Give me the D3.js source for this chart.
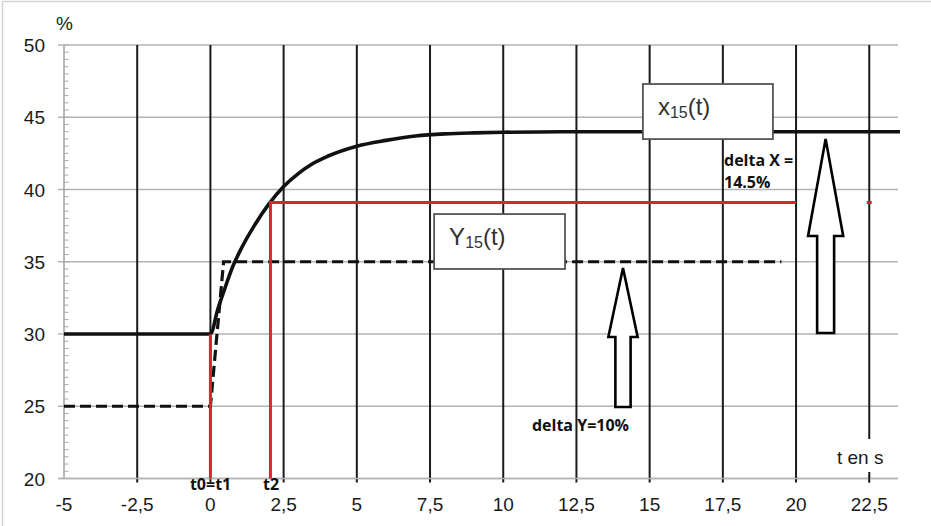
<!DOCTYPE html>
<html><head><meta charset="utf-8">
<script src="https://cdn.jsdelivr.net/npm/d3@7"></script>
<style>body{margin:0;background:#fff}svg{display:block}</style>
</head><body>
<svg id="c" width="931" height="526"></svg>
<script>
// ---- data ----
const xTicks = [-5, -2.5, 0, 2.5, 5, 7.5, 10, 12.5, 15, 17.5, 20, 22.5];
const xTickLabels = ["-5", "-2,5", "0", "2,5", "5", "7,5", "10", "12,5", "15", "17,5", "20", "22,5"];
const yTicks = [20, 25, 30, 35, 40, 45, 50];
// x15(t) output response
const xT = [-5, 0, 0.25, 0.5, 0.75, 1, 1.5, 2, 2.5, 3, 3.5, 4, 5, 6, 7, 8, 9, 10, 12, 23.55];
const xV = [30, 30, 31.7, 33.2, 34.6, 35.7, 37.5, 39.0, 40.2, 41.1, 41.8, 42.3, 43.0, 43.4, 43.7, 43.85, 43.92, 43.96, 44, 44];
// Y15(t) input step
const yT = [-5, 0, 0.45, 19.5];
const yV = [25, 25, 35, 35];
// markers
const t0 = 0, t2 = 2.05, x0Val = 30, x2Val = 39.1, redEnd = 20, redDot = 22.5;

const svg = d3.select("#c");
const x = d3.scaleLinear().domain([-5, 23.55]).range([64, 900]);
const y = d3.scaleLinear().domain([20, 50]).range([478.5, 45]);

// frame
svg.append("rect").attr("x", 2.5).attr("y", 1.5).attr("width", 950).attr("height", 560)
  .attr("fill", "none").attr("stroke", "#d4d4d4").attr("stroke-width", 1.5);

// horizontal grid
svg.append("g").selectAll("line").data(yTicks).join("line")
  .attr("x1", 58).attr("x2", 898).attr("y1", d => y(d)).attr("y2", d => y(d))
  .attr("stroke", "#b3b3b3").attr("stroke-width", 1.5);

// y axis line + minor ticks
svg.append("line").attr("x1", x(-5)).attr("x2", x(-5)).attr("y1", y(50)).attr("y2", y(20))
  .attr("stroke", "#a0a0a0").attr("stroke-width", 1.5);
svg.append("g").selectAll("line").data(d3.range(20, 50.01, 0.5)).join("line")
  .attr("x1", x(-5)).attr("x2", x(-5) + 4.5).attr("y1", d => y(d)).attr("y2", d => y(d))
  .attr("stroke", "#a8a8a8").attr("stroke-width", 1);

// vertical grid (dark)
svg.append("g").selectAll("line").data(xTicks.filter(d => d > -5 && d < 22)).join("line")
  .attr("x1", d => x(d)).attr("x2", d => x(d)).attr("y1", y(50)).attr("y2", y(20) + 4)
  .attr("stroke", "#1a1a1a").attr("stroke-width", 2);
svg.append("line").attr("x1", x(22.5)).attr("x2", x(22.5)).attr("y1", y(50)).attr("y2", y(20) + 4)
  .attr("stroke", "#1a1a1a").attr("stroke-width", 2);

// y tick labels
svg.append("g").selectAll("text").data(yTicks).join("text")
  .attr("x", 45).attr("y", d => y(d) + 7).attr("text-anchor", "end")
  .attr("font-family", "Liberation Sans, Arial, sans-serif").attr("font-size", 19).attr("fill", "#1a1a1a")
  .text(d => d);
svg.append("text").attr("x", 56).attr("y", 30).attr("font-family", "Liberation Sans, Arial, sans-serif")
  .attr("font-size", 19).attr("fill", "#1a1a1a").text("%");

// x tick labels
svg.append("g").selectAll("text").data(xTicks).join("text")
  .attr("x", d => x(d)).attr("y", 511).attr("text-anchor", "middle")
  .attr("font-family", "Liberation Sans, Arial, sans-serif").attr("font-size", 19).attr("fill", "#1a1a1a")
  .text((d, i) => xTickLabels[i]);

// "t en s" label with white background
svg.append("rect").attr("x", 833).attr("y", 439).attr("width", 56).attr("height", 33).attr("fill", "#fff");
svg.append("line").attr("x1", 58).attr("x2", 898).attr("y1", y(20)).attr("y2", y(20))
  .attr("stroke", "#b3b3b3").attr("stroke-width", 1.5);
svg.append("line").attr("x1", x(22.5)).attr("x2", x(22.5)).attr("y1", y(20) - 3).attr("y2", y(20) + 4)
  .attr("stroke", "#1a1a1a").attr("stroke-width", 1.5);
svg.append("text").attr("x", 837).attr("y", 464).attr("font-family", "Liberation Sans, Arial, sans-serif")
  .attr("font-size", 19).attr("fill", "#1a1a1a").text("t en s");

// curves
const line = d3.line().x(d => x(d[0])).y(d => y(d[1]));
svg.append("path").datum(yT.map((t, i) => [t, yV[i]])).attr("d", line)
  .attr("fill", "none").attr("stroke", "#111").attr("stroke-width", 3.2).attr("stroke-dasharray", "11,5");
svg.append("path").datum(xT.map((t, i) => [t, xV[i]]))
  .attr("d", line.curve(d3.curveMonotoneX))
  .attr("fill", "none").attr("stroke", "#111").attr("stroke-width", 3.6);

// red marker lines
const red = "#d8262f";
const redG = svg.append("g").attr("stroke", red).attr("stroke-width", 3).attr("fill", "none");
redG.append("line").attr("x1", x(t0)).attr("x2", x(t0)).attr("y1", y(x0Val)).attr("y2", y(20));
redG.append("path").attr("d", `M${x(t2)},${y(20)}V${y(x2Val)}H${x(redEnd)}`);
redG.append("line").attr("x1", x(redDot) - 2.5).attr("x2", x(redDot) + 2.5).attr("y1", y(x2Val)).attr("y2", y(x2Val));

// label boxes
const boxes = [
  {t1: 14.77, t2: 19.21, v1: 47.3, v2: 43.49, main: "x", sub: "15", rest: "(t)"},
  {t1: 7.64, t2: 12.11, v1: 38.3, v2: 34.5, main: "Y", sub: "15", rest: "(t)"}
];
boxes.forEach(b => {
  svg.append("rect").attr("x", x(b.t1)).attr("y", y(b.v1)).attr("width", x(b.t2) - x(b.t1)).attr("height", y(b.v2) - y(b.v1))
    .attr("fill", "#fff").attr("stroke", "#555").attr("stroke-width", 1.8);
  const tx = svg.append("text").attr("x", x(b.t1) + 15).attr("y", y(b.v1) + 31)
    .attr("font-family", "Liberation Sans, Arial, sans-serif").attr("font-size", 24).attr("fill", "#333");
  tx.append("tspan").text(b.main);
  tx.append("tspan").attr("font-size", 16).attr("dy", 3).text(b.sub);
  tx.append("tspan").attr("dy", -3).text(b.rest);
});

// hollow arrows
const arrows = [
  {t: 14.09, tip: 34.57, base: 29.79, bottom: 24.95, hw: 0.5, sw: 0.26},
  {t: 21.01, tip: 43.49, base: 36.78, bottom: 30.07, hw: 0.6, sw: 0.29}
];
arrows.forEach(a => {
  const pts = [[a.t, a.tip], [a.t + a.hw, a.base], [a.t + a.sw, a.base], [a.t + a.sw, a.bottom],
               [a.t - a.sw, a.bottom], [a.t - a.sw, a.base], [a.t - a.hw, a.base]];
  svg.append("polygon").attr("points", pts.map(p => [x(p[0]), y(p[1])].join(",")).join(" "))
    .attr("fill", "#fff").attr("stroke", "#000").attr("stroke-width", 2.6).attr("stroke-linejoin", "miter");
});

// annotation texts
const ann = [
  {t: 10.98, v: 23.3, s: "delta Y=10%"},
  {t: 17.54, v: 41.65, s: "delta X ="},
  {t: 17.54, v: 40.1, s: "14.5%"},
  {t: -0.7, v: 19.2, s: "t0=t1"},
  {t: 1.8, v: 19.2, s: "t2"}
];
svg.append("g").selectAll("text").data(ann).join("text")
  .attr("x", d => x(d.t)).attr("y", d => y(d.v))
  .attr("font-family", "Open Sans, sans-serif").attr("font-weight", 700).attr("font-size", 16)
  .attr("fill", "#111").text(d => d.s);
</script>
</body></html>
